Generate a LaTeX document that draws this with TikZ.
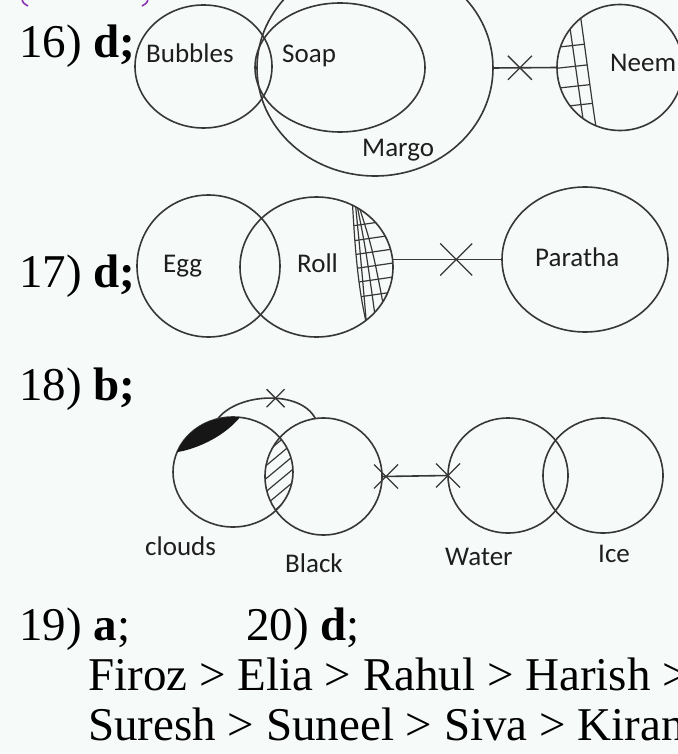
\documentclass[tikz,border=0pt]{standalone}
\usepackage{fontspec}
\setmainfont{Liberation Serif}
\newfontfamily\lblfont{Carlito}
\usetikzlibrary{shapes.geometric,shapes.misc}

\definecolor{bgcol}{RGB}{246,250,248}
\definecolor{linegray}{RGB}{55,55,55}
\definecolor{textgray}{RGB}{30,30,30}
\definecolor{parencol}{RGB}{140,50,180}

\begin{document}
\begin{tikzpicture}[x=1pt,y=-1pt,
  ring/.style={ellipse, draw=linegray, line width=1.6pt, inner sep=0pt, outer sep=0pt},
  lbl/.style={font=\lblfont\fontsize{27}{27}\selectfont, text=textgray, inner sep=0pt, anchor=base west},
  head/.style={font=\fontsize{47}{47}\selectfont, inner sep=0pt, anchor=base west},
  xmark/.style={cross out, draw=linegray, line width=1.3pt, inner sep=0pt, outer sep=0pt,
                minimum width=#1, minimum height=#1},
  link/.style={draw=linegray, line width=1.6pt},
  hatch/.style={draw=linegray, line width=1.2pt}
]
\fill[bgcol] (0,0) rectangle (677,754);
\useasboundingbox (0,0) rectangle (677,754);

% bracket ends peeking in at the top
\draw[parencol, line width=1.6pt] (22,-1) .. controls (23,3) .. (28,6);
\draw[parencol, line width=1.6pt] (148,-1) .. controls (147,3) .. (142,6);

% ---------------- 16 ----------------
\node[head] (q16) at (19,58) {16) \textbf{d;}};
\node[ring, minimum width=137pt, minimum height=123pt] (bubbles) at (203.5,66.5) {};
\node[ring, minimum width=170pt, minimum height=129pt] (soap) at (340,67.5) {};
\node[ring, minimum width=236pt, minimum height=216pt] (margo) at (375,68) {};
\node[ring, minimum width=126pt, minimum height=126pt] (neem) at (620,67.5) {};

\begin{scope}
  \clip (620,67.5) ellipse [x radius=63pt, y radius=63pt];
  \draw[hatch] (578,0) .. controls (585,45) and (590,90) .. (598,140);
  \clip (540,0) -- (578,0) .. controls (585,45) and (590,90) .. (598,140) -- (540,140) -- cycle;
  \draw[hatch] (566,0) -- (586,140);
  \foreach \yy in {45,66,86,105}
    \draw[hatch] (550,\yy+3) -- (605,\yy-3);
\end{scope}

\draw[link] (margo.east) -- node[xmark=24pt, pos=0.42] (x16) {} (neem.west);

\node[lbl] (tbubbles) at (146,63) {Bubbles};
\node[lbl] (tsoap) at (282,63) {Soap};
\node[lbl] (tmargo) at (362,157) {Margo};
\node[lbl] (tneem) at (610,72) {Neem};

% ---------------- 17 ----------------
\node[head] (q17) at (19,287) {17) \textbf{d;}};
\node[ring, minimum width=143pt, minimum height=142pt] (egg) at (208.5,266) {};
\node[ring, minimum width=153pt, minimum height=140pt] (roll) at (316.5,267) {};
\node[ring, minimum width=166pt, minimum height=145pt] (paratha) at (585,259.5) {};

\begin{scope}
  \clip (316.5,267) ellipse [x radius=76.5pt, y radius=70pt];
  \draw[hatch] (352,195) .. controls (355,250) and (358,290) .. (368,330);
  \clip (352,195) .. controls (355,250) and (358,290) .. (368,330) -- (420,340) -- (420,190) -- cycle;
  \draw[hatch] (355,200) .. controls (360,250) .. (367,330);
  \draw[hatch] (356,200) .. controls (366,250) .. (377,330);
  \draw[hatch] (357,200) .. controls (373,250) .. (388,330);
  \foreach \yy in {223,238,252,266,280,295}
    \draw[hatch] (345,\yy+4) -- (400,\yy-4);
\end{scope}

\coordinate (r17) at (paratha.west -| roll.east);
\draw[link] (r17) -- node[xmark=32pt, pos=0.58] (x17) {} (paratha.west);

\node[lbl] (tegg) at (163,272) {Egg};
\node[lbl] (troll) at (297,272) {Roll};
\node[lbl] (tparatha) at (535,266) {Paratha};

% ---------------- 18 ----------------
\node[head] (q18) at (19,400) {18) \textbf{b;}};
\node[ring, minimum width=120pt, minimum height=110pt] (clouds) at (233,472) {};
\node[ring, minimum width=117pt, minimum height=117pt] (black) at (323.5,476.5) {};
\node[ring, minimum width=120pt, minimum height=115pt] (water) at (508,475.5) {};
\node[ring, minimum width=120pt, minimum height=115pt] (ice) at (603,475.5) {};

% solid crescent on the clouds circle
\begin{scope}
  \clip (233,472) ellipse [x radius=60pt, y radius=55pt];
  \fill[linegray!40!black] (178,452) .. controls (200,448) and (226,435) .. (241,416)
        -- (241,400) -- (165,400) -- (165,452) -- cycle;
\end{scope}

% striped overlap of clouds and Black
\begin{scope}
  \clip (233,472) ellipse [x radius=60pt, y radius=55pt];
  \clip (323.5,476.5) ellipse [x radius=58.5pt, y radius=58.5pt];
  \foreach \k in {0,...,9}
    \draw[hatch] (250,440+\k*13) -- (310,390+\k*13);
\end{scope}

% arc linking clouds and Black
\draw[link] (clouds.106) .. controls +(20,-26) and +(-15,-29) .. (black.98)
  node[xmark=18pt, pos=0.56] (x18a) {};

\draw[link] (black.east) -- (water.west);
\node[xmark=24pt] (x18b) at ([xshift=4pt]black.east) {};
\node[xmark=24pt] (x18c) at (water.west) {};

\node[lbl] (tclouds) at (145,555) {clouds};
\node[lbl] (tblack) at (285,572) {Black};
\node[lbl] (twater) at (445,565) {Water};
\node[lbl] (tice) at (598,562) {Ice};

% ---------------- 19, 20 ----------------
\node[head] (q19) at (19,640) {19) \textbf{a};};
\node[head] (q20) at (246,640) {20) \textbf{d};};
\node[head] (order1) at (88,690) {Firoz > Elia > Rahul > Harish > };
\node[head] (order2) at (88,740) {Suresh > Suneel > Siva > Kiran};
\end{tikzpicture}
\end{document}
